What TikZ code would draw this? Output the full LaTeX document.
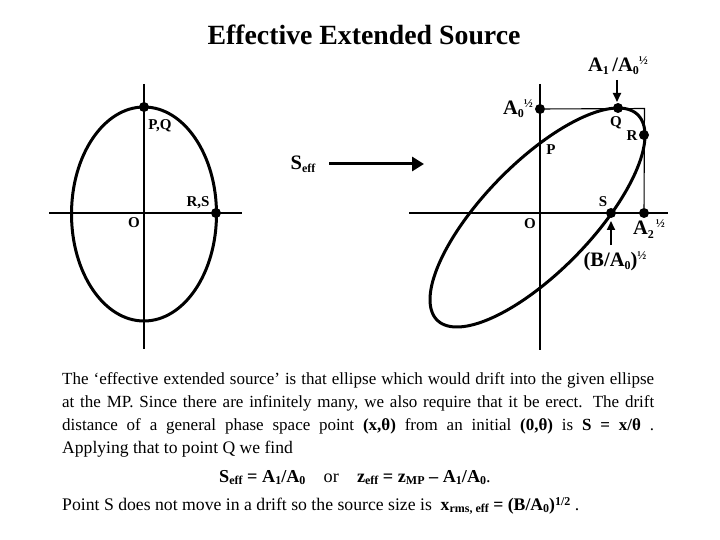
\documentclass[tikz,border=0pt]{standalone}
\usepackage{fontspec}
\setmainfont{Liberation Serif}
\usetikzlibrary{arrows.meta}
\newcommand{\lo}[2][-2.5pt]{\raisebox{#1}{\fontsize{12}{12}\selectfont #2}}
\newcommand{\hi}[2][7pt]{\raisebox{#1}{\fontsize{12}{12}\selectfont #2}}
\tikzset{
  axis/.style={line width=2pt},
  curve/.style={line width=3pt},
  thinline/.style={line width=1.1pt},
  dot/.style={circle,fill=black,inner sep=0pt,minimum size=10pt},
  lab/.style={inner sep=0pt,anchor=base,font=\fontsize{15}{15}\selectfont\bfseries},
  biglab/.style={inner sep=0pt,anchor=base,font=\fontsize{20.5}{20.5}\selectfont\bfseries},
  body/.style={inner sep=0pt,anchor=base west,font=\fontsize{17}{17}\selectfont},
  bigarrow/.style={line width=3pt,-{Triangle[length=12pt,width=14pt]}},
  smallarrow/.style={line width=1.8pt,-{Triangle[length=9pt,width=8pt]}}
}
\begin{document}
\begin{tikzpicture}[x=1pt,y=-1pt]
\useasboundingbox (0,0) rectangle (720,540);
\node[inner sep=0pt,anchor=base,font=\fontsize{27.8}{27.8}\selectfont\bfseries] (title) at (364,45) {Effective Extended Source};

% left figure
\coordinate (lt) at (144,84); \coordinate (lb) at (144,349);
\coordinate (ll) at (49,213); \coordinate (lr) at (242,213);
\draw[axis] (lt) -- (lb);
\draw[axis] (ll) -- (lr);
\draw[curve] (144,214) ellipse [x radius=72.5,y radius=107];
\node[dot] (pq) at (144,107) {};
\node[dot] (rs) at (216,213) {};
\node[lab] (lpq) at (160,130) {P,Q};
\node[lab] (lrs) at (198,207) {R,S};
\node[lab] (lo) at (134,228) {O};

% arrow
\node[biglab] (seff) at (303,170) {S\lo[-3pt]{eff}};
\coordinate (as) at (329,164); \coordinate (ae) at (424,164);
\draw[bigarrow] (as) -- (ae);

% right figure
\coordinate (rt) at (540,84); \coordinate (rb) at (540,350);
\coordinate (rl) at (409,213); \coordinate (rr) at (668,213);
\draw[axis] (rt) -- (rb);
\draw[axis] (rl) -- (rr);
\node[dot] (a0) at (540,109) {};
\node[dot] (q) at (618,108) {};
\node[dot] (r) at (644,135) {};
\node[dot] (s) at (611,213) {};
\node[dot] (a2) at (644,213) {};
\coordinate (corner) at (644.5,108.5);
\draw[thinline] (a0) -- (corner) -- (a2);
\draw[curve,domain=0:360,samples=180,smooth,variable=\t]
  plot ({537.5+107.5*cos(\t)},{217.5-109.5*cos(\t-41.4)}) -- cycle;
\node[lab] (lp) at (551,155) {P};
\node[lab] (lq) at (616,127) {Q};
\node[lab] (lr2) at (632,141) {R};
\node[lab] (ls) at (603,207) {S};
\node[lab] (lo2) at (530,229) {O};
\node[biglab] (la1) at (618,72) {A\lo[-3pt]{1}\,/A\lo[-3pt]{0}\hi{½}};
\node[biglab] (la0) at (518,115) {A\lo[-3pt]{0}\hi{½}};
\node[biglab] (la2) at (649,235) {A\lo[-3pt]{2}\hi{\,½}};
\node[biglab] (lb0) at (615,266) {(B/A\lo[-3pt]{0})\hi{½}};
\coordinate (q1) at (617,80); \coordinate (q2) at (617,102);
\draw[smallarrow] (q1) -- (q2);
\coordinate (s1) at (611,245); \coordinate (s2) at (611,221);
\draw[smallarrow] (s1) -- (s2);

% text
\node[body] (t1) at (62,384) {\makebox[592pt][s]{The ‘effective extended source’ is that ellipse which would drift into the given ellipse}};
\node[body] (t2) at (62,407) {\makebox[592pt][s]{at the MP. Since there are infinitely many, we also require that it be erect. The drift}};
\node[body] (t3) at (62,430) {\makebox[592pt][s]{distance of a general phase space point \textbf{(x,θ)} from an initial \textbf{(0,θ)} is \textbf{S = x/θ} .}};
\node[body,font=\fontsize{17.6}{17.6}\selectfont] (t4) at (62,453) {Applying that to point Q we find};
\node[body,font=\fontsize{18.2}{18.2}\selectfont] (t5) at (219,482) {\textbf{S\lo{eff} = A\lo{1}/A\lo{0}}\quad or\quad \textbf{z\lo{eff} = z\lo{MP} – A\lo{1}/A\lo{0}}.};
\node[body,font=\fontsize{17.7}{17.7}\selectfont] (t6) at (62,510) {Point S does not move in a drift so the source size is\ \ \textbf{x\lo{rms, eff} = (B/A\lo{0})\hi[5pt]{1/2}} .};
\end{tikzpicture}
\end{document}
